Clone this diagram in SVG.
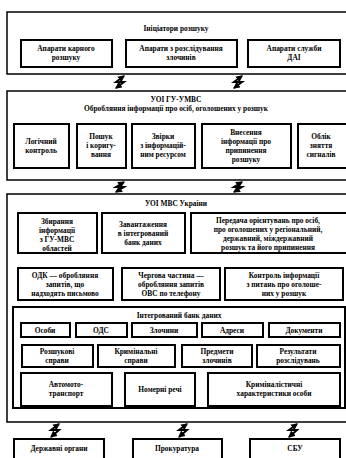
<svg xmlns="http://www.w3.org/2000/svg" width="346" height="458" viewBox="0 0 346 458">
<defs>
<style>
.blk{fill:#fff;stroke:#000;stroke-width:1.5}
.bx{fill:#fff;stroke:#000;stroke-width:2}
.t{font-family:"Liberation Serif",serif;font-weight:bold;font-size:7.4px;fill:#000;text-anchor:middle}
.z{fill:none;stroke:#000;stroke-width:2}
</style>
<marker id="ah" viewBox="0 0 6 6" refX="5" refY="3" markerWidth="3.5" markerHeight="3.5" orient="auto-start-reverse"><path d="M0,0 L6,3 L0,6 Z" fill="#000"/></marker>
</defs>
<rect width="346" height="458" fill="#fff"/>

<g id="block1">
<rect class="blk" x="7" y="12" width="345" height="62"/>
<text class="t" x="176" y="31">Ініціатори розшуку</text>
</g>
<g id="n1a"><rect class="bx" x="21" y="40" width="91" height="27"/><text class="t" x="66" y="51">Апарати карного</text><text class="t" x="66" y="60">розшуку</text></g>
<g id="n1b"><rect class="bx" x="126" y="40" width="111" height="27"/><text class="t" x="181" y="51">Апарати з розслідування</text><text class="t" x="181" y="60">злочинів</text></g>
<g id="n1c"><rect class="bx" x="248" y="40" width="92" height="27"/><text class="t" x="294" y="51">Апарати служби</text><text class="t" x="294" y="60">ДАІ</text></g>

<g id="block2">
<rect class="blk" x="7" y="91" width="345" height="89"/>
<text class="t" x="176" y="102">УОІ ГУ-УМВС</text>
<text class="t" x="176" y="111">Обробляння інформації про осіб, оголошених у розшук</text>
</g>
<g id="n2a"><rect class="bx" x="14" y="124" width="55" height="44"/><text class="t" x="41" y="144">Логічний</text><text class="t" x="41" y="153">контроль</text></g>
<g id="n2b"><rect class="bx" x="77" y="124" width="49" height="44"/><text class="t" x="101" y="139">Пошук</text><text class="t" x="101" y="148">і коригу-</text><text class="t" x="101" y="157">вання</text></g>
<g id="n2c"><rect class="bx" x="132" y="124" width="63" height="44"/><text class="t" x="163" y="139">Звірки</text><text class="t" x="163" y="148">з інформацій-</text><text class="t" x="163" y="157">ним ресурсом</text></g>
<g id="n2d"><rect class="bx" x="202" y="124" width="89" height="44"/><text class="t" x="246" y="135">Внесення</text><text class="t" x="246" y="144">інформації про</text><text class="t" x="246" y="153">припинення</text><text class="t" x="246" y="162">розшуку</text></g>
<g id="n2e"><rect class="bx" x="298" y="124" width="54" height="44"/><text class="t" x="321" y="139">Облік</text><text class="t" x="321" y="148">зняття</text><text class="t" x="321" y="157">сигналів</text></g>

<g id="block3">
<rect class="blk" x="7" y="194" width="345" height="228"/>
<text class="t" x="176" y="206">УОІ МВС України</text>
</g>
<g id="n3a"><rect class="bx" x="18" y="213" width="79" height="40"/><text class="t" x="57" y="224">Збирання</text><text class="t" x="57" y="233">інформації</text><text class="t" x="57" y="242">з ГУ-МВС</text><text class="t" x="57" y="251">областей</text></g>
<g id="n3b"><rect class="bx" x="102" y="213" width="83" height="40"/><text class="t" x="143" y="227">Завантаження</text><text class="t" x="143" y="236">в інтегрований</text><text class="t" x="143" y="245">банк даних</text></g>
<g id="n3c"><rect class="bx" x="191" y="213" width="160" height="40"/><text class="t" x="268" y="223">Передача орієнтувань про осіб,</text><text class="t" x="268" y="232">про оголошених у регіональний,</text><text class="t" x="268" y="241">державний, міждержавний</text><text class="t" x="268" y="250">розшук та його припинення</text></g>
<g id="n3d"><rect class="bx" x="18" y="268" width="95" height="32"/><text class="t" x="65" y="278">ОДК — обробляння</text><text class="t" x="65" y="287">запитів, що</text><text class="t" x="65" y="296">надходять письмово</text></g>
<g id="n3e"><rect class="bx" x="122" y="268" width="98" height="32"/><text class="t" x="171" y="278">Чергова частина —</text><text class="t" x="171" y="287">обробляння запитів</text><text class="t" x="171" y="296">ОВС по телефону</text></g>
<g id="n3f"><rect class="bx" x="225" y="268" width="118" height="32"/><text class="t" x="284" y="278">Контроль інформації</text><text class="t" x="284" y="287">з питань про оголоше-</text><text class="t" x="284" y="296">них у розшук</text></g>

<g id="bank">
<rect class="bx" x="13" y="307" width="332" height="101"/>
<text class="t" x="179" y="318">Інтегрований банк даних</text>
</g>
<g id="b1"><rect class="bx" x="21" y="323" width="49" height="14"/><text class="t" x="45" y="333">Особи</text></g>
<g id="b2"><rect class="bx" x="76" y="323" width="51" height="14"/><text class="t" x="101" y="333">ОДС</text></g>
<g id="b3"><rect class="bx" x="132" y="323" width="65" height="14"/><text class="t" x="164" y="333">Злочини</text></g>
<g id="b4"><rect class="bx" x="202" y="323" width="61" height="14"/><text class="t" x="232" y="333">Адреси</text></g>
<g id="b5"><rect class="bx" x="269" y="323" width="71" height="14"/><text class="t" x="304" y="333">Документи</text></g>
<g id="b6"><rect class="bx" x="22" y="345" width="71" height="22"/><text class="t" x="57" y="354">Розшукові</text><text class="t" x="57" y="363">справи</text></g>
<g id="b7"><rect class="bx" x="98" y="345" width="77" height="22"/><text class="t" x="136" y="354">Кримінальні</text><text class="t" x="136" y="363">справи</text></g>
<g id="b8"><rect class="bx" x="182" y="345" width="70" height="22"/><text class="t" x="217" y="354">Предмети</text><text class="t" x="217" y="363">злочинів</text></g>
<g id="b9"><rect class="bx" x="257" y="345" width="83" height="22"/><text class="t" x="298" y="354">Результати</text><text class="t" x="298" y="363">розслідувань</text></g>
<g id="b10"><rect class="bx" x="21" y="373" width="91" height="33"/><text class="t" x="66" y="387">Автомото-</text><text class="t" x="66" y="396">транспорт</text></g>
<g id="b11"><rect class="bx" x="125" y="373" width="70" height="33"/><text class="t" x="160" y="392">Номерні речі</text></g>
<g id="b12"><rect class="bx" x="208" y="373" width="132" height="33"/><text class="t" x="274" y="387">Криміналістичні</text><text class="t" x="274" y="396">характеристики особи</text></g>

<g id="n4a"><rect class="bx" x="14" y="439" width="90" height="25"/><text class="t" x="59" y="451">Державні органи</text></g>
<g id="n4b"><rect class="bx" x="133" y="439" width="89" height="25"/><text class="t" x="177" y="451">Прокуратура</text></g>
<g id="n4c"><rect class="bx" x="250" y="439" width="90" height="25"/><text class="t" x="295" y="451">СБУ</text></g>

<g id="connectors">
<path class="z" d="M124,76 L116,82 L124,82 L116,88" marker-start="url(#ah)" marker-end="url(#ah)"/>
<path class="z" d="M242,76 L234,82 L242,82 L234,88" marker-start="url(#ah)" marker-end="url(#ah)"/>
<path class="z" d="M124,182 L116,187 L124,187 L116,192" marker-start="url(#ah)" marker-end="url(#ah)"/>
<path class="z" d="M242,182 L234,187 L242,187 L234,192" marker-start="url(#ah)" marker-end="url(#ah)"/>
<path class="z" d="M59,424 L51,430 L59,430 L51,437" marker-start="url(#ah)" marker-end="url(#ah)"/>
<path class="z" d="M187,424 L179,430 L187,430 L179,437" marker-start="url(#ah)" marker-end="url(#ah)"/>
<path class="z" d="M297,424 L289,430 L297,430 L289,437" marker-start="url(#ah)" marker-end="url(#ah)"/>
</g>
</svg>
